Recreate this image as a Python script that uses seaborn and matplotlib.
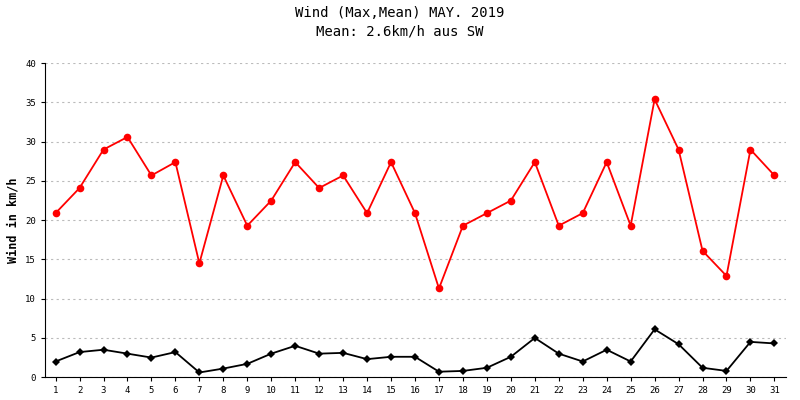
import matplotlib
matplotlib.use("Agg")
import matplotlib.pyplot as plt
import seaborn as sns
import pandas as pd

days = list(range(1, 32))
wind_max = [20.9, 24.1, 29.0, 30.6, 25.7, 27.4, 14.5, 25.7, 19.3, 22.5, 27.4, 24.1, 25.7, 20.9, 27.4, 20.9,
            11.3, 19.3, 20.9, 22.5, 27.4, 19.3, 20.9, 27.4, 19.3, 35.4, 29.0, 16.1, 12.9, 29.0, 25.7]
wind_mean = [2.0, 3.2, 3.5, 3.0, 2.5, 3.2, 0.6, 1.1, 1.7, 3.0, 4.0, 3.0, 3.1, 2.3, 2.6, 2.6,
             0.7, 0.8, 1.2, 2.6, 5.0, 3.0, 2.0, 3.5, 2.0, 6.1, 4.2, 1.2, 0.8, 4.5, 4.3]

df = pd.DataFrame({"day": days, "max": wind_max, "mean": wind_mean})

fig = plt.figure(figsize=(8, 4), dpi=100)
ax = fig.add_axes([0.056, 0.057, 0.927, 0.785])
sns.lineplot(data=df, x="day", y="max", ax=ax, color="#ff0000", marker="o", markersize=5.5,
             markeredgewidth=0, linewidth=1.3)
sns.lineplot(data=df, x="day", y="mean", ax=ax, color="black", marker="D", markersize=4,
             markeredgewidth=0, linewidth=1.3)

ax.set_xlim(0.55, 31.5)
ax.set_ylim(0, 40)
ax.set_xticks(days)
ax.set_yticks(range(0, 41, 5))
ax.tick_params(labelsize=6.5, length=3)
for lab in ax.get_xticklabels() + ax.get_yticklabels():
    lab.set_fontfamily("DejaVu Sans Mono")
ax.spines["top"].set_visible(False)
ax.spines["right"].set_visible(False)
ax.yaxis.grid(True, linestyle=(0, (2, 3)), color="#bbbbbb", linewidth=0.8)
ax.set_axisbelow(True)
ax.set_xlabel("")
ax.set_ylabel("Wind in km/h", fontsize=8.5, fontfamily="DejaVu Sans Mono", fontweight="bold")
fig.suptitle("Wind (Max,Mean) MAY. 2019\nMean: 2.6km/h aus SW", y=0.985, fontsize=10,
             fontfamily="DejaVu Sans Mono", linespacing=1.4)

fig.savefig("out.png", dpi=100)
